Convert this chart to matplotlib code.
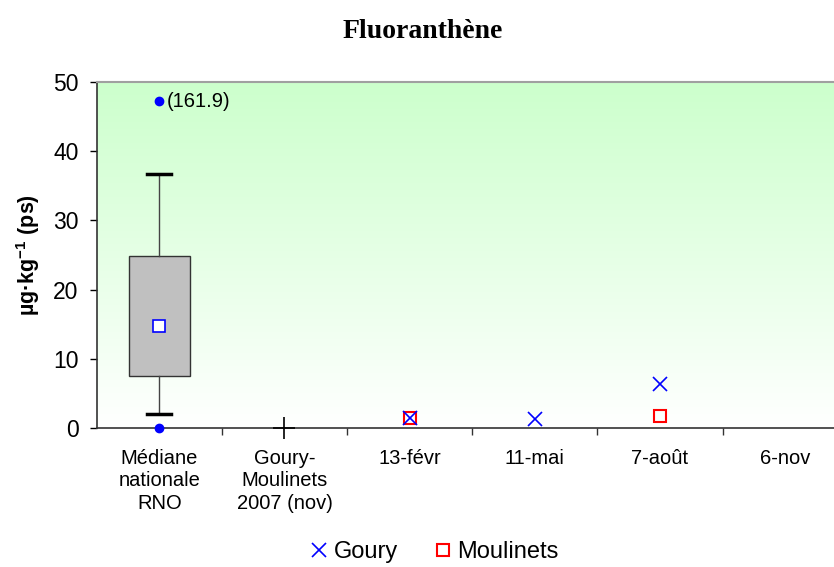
import numpy as np
import matplotlib
matplotlib.use("Agg")
import matplotlib.pyplot as plt
from matplotlib.colors import LinearSegmentedColormap

categories = ["Médiane\nnationale\nRNO", "Goury-\nMoulinets\n2007 (nov)", "13-févr", "11-mai", "7-août", "6-nov"]
rno_q1 = 7.5
rno_q3 = 24.9
rno_whislo = 2.0
rno_whishi = 36.6
rno_median = 14.7
rno_min = 0.0
rno_max_shown = 47.2
rno_max_label = "(161.9)"
ref_2007 = [np.nan, 0.0, np.nan, np.nan, np.nan, np.nan]
goury = [np.nan, np.nan, 1.5, 1.25, 6.35, np.nan]
moulinets = [np.nan, np.nan, 1.5, np.nan, 1.73, np.nan]
yticks = [0, 10, 20, 30, 40, 50]

plt.rcParams['font.family'] = ['Liberation Sans', 'DejaVu Sans']
fig = plt.figure(figsize=(8.34, 5.67), dpi=100)
ax = fig.add_axes([0.116, 0.245, 0.9005, 0.611])
x = np.arange(1, len(categories) + 1)
ax.set_xlim(0.5, len(categories) + 0.5)
ax.set_ylim(0, 50)

# gradient background
cmap = LinearSegmentedColormap.from_list("g", ["#ffffff", "#ccffcc"])
grad = np.linspace(0, 1, 256).reshape(-1, 1)
ax.imshow(grad, extent=[0.5, len(categories) + 0.5, 0, 50], origin="lower",
          aspect="auto", cmap=cmap, zorder=0)

stats = [dict(med=rno_median, q1=rno_q1, q3=rno_q3, whislo=rno_whislo, whishi=rno_whishi, fliers=[])]
ax.bxp(stats, positions=[1], widths=0.49, showfliers=False, patch_artist=True,
       boxprops=dict(facecolor="#c0c0c0", edgecolor="#333333", linewidth=1.0),
       whiskerprops=dict(color="#444444", linewidth=1.0),
       capprops=dict(color="black", linewidth=2.5),
       medianprops=dict(linewidth=0), capwidths=0.19, zorder=3)
ax.plot([1], [rno_median], marker="s", markersize=9, markerfacecolor="white",
        markeredgecolor="blue", markeredgewidth=1.2, linestyle="none", zorder=4)
ax.plot([1, 1], [rno_min, rno_max_shown], marker="o", markersize=6, color="blue",
        linestyle="none", zorder=5, clip_on=False)
ax.annotate(rno_max_label, (1, rno_max_shown), xytext=(5, 0), textcoords="offset points",
            va="center", ha="left", fontsize=14.5)

ax.plot(x, ref_2007, marker="+", markersize=16, color="black", markeredgewidth=1.2,
        linestyle="none", zorder=5, clip_on=False)
ax.plot(x, moulinets, marker="s", markersize=9, markerfacecolor="none", markeredgecolor="red",
        markeredgewidth=1.5, linestyle="none", zorder=5, label="Moulinets")
ax.plot(x, goury, marker="x", markersize=10, color="blue", markeredgewidth=1.2,
        linestyle="none", zorder=6, label="Goury")

ax.set_yticks(yticks)
ax.set_yticklabels([str(t) for t in yticks], fontsize=16.5)
ax.tick_params(axis="y", direction="out", length=5, width=1, pad=8)
ax.set_xticks(x)
ax.set_xticklabels(categories, fontsize=14.5, linespacing=1.22)
ax.tick_params(axis="x", length=0, pad=15)
ax.set_xticks(np.arange(1.5, len(categories) + 0.5, 1), minor=True)
ax.tick_params(axis="x", which="minor", direction="out", length=5, width=1, color="#333333")

for s in ["left", "bottom"]:
    ax.spines[s].set_color("#333333")
    ax.spines[s].set_linewidth(1.2)
ax.spines["top"].set_color("#a0a0a0")
ax.spines["top"].set_linewidth(1.5)
ax.spines["right"].set_visible(False)

ax.set_ylabel("µg·kg$\\mathregular{^{-1}}$ (ps)", fontsize=15.5, fontweight="bold", labelpad=8)
fig.text(0.507, 0.945, "Fluoranthène", ha="center", va="center", fontsize=20,
         fontweight="bold", family="Liberation Serif")

h, l = ax.get_legend_handles_labels()
order = [l.index("Goury"), l.index("Moulinets")]
fig.legend([h[i] for i in order], [l[i] for i in order], loc="center",
           bbox_to_anchor=(0.519, 0.026), ncol=2, frameon=False, fontsize=17,
           handletextpad=0.1, columnspacing=1.4, handlelength=1.0)

fig.savefig("out.png", dpi=100)
